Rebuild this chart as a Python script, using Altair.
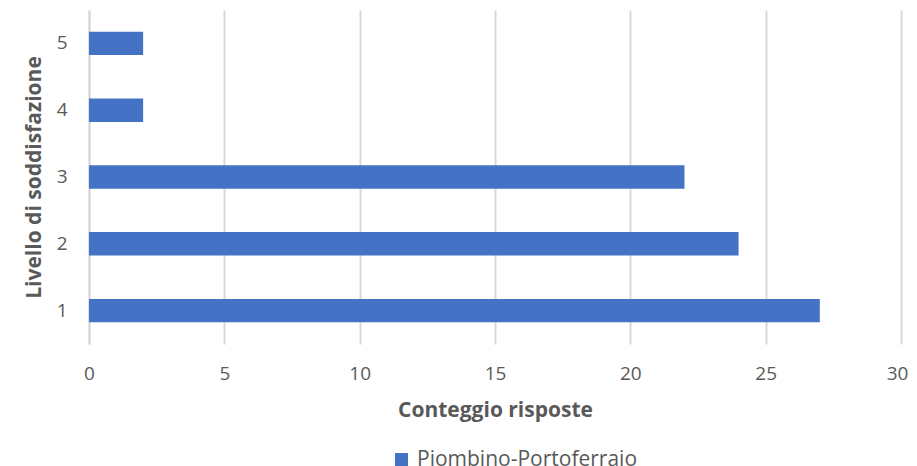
import altair as alt
import pandas as pd

livelli = ["1", "2", "3", "4", "5"]
conteggi = [27, 24, 22, 2, 2]
serie = "Piombino-Portoferraio"

df = pd.DataFrame({"Livello": livelli, "Conteggio": conteggi, "Serie": [serie] * len(livelli)})

FONT = "Open Sans"
GREY = "#595959"

chart = alt.Chart(df).mark_bar(color="#4472C4").encode(
    x=alt.X("Conteggio:Q",
            scale=alt.Scale(domain=[0, 30], nice=False),
            axis=alt.Axis(values=[0, 5, 10, 15, 20, 25, 30], title="Conteggio risposte",
                          grid=True, gridColor="#d9d9d9", gridWidth=2, domain=False, ticks=False,
                          labelFontSize=19, labelColor=GREY, labelPadding=20, labelFont=FONT,
                          labelFlush=False,
                          labelOffset=alt.condition("datum.value == 30", alt.value(-4), alt.value(0)),
                          titleFontSize=21, titleColor=GREY, titleFont=FONT, titleFontWeight="bold",
                          titlePadding=16)),
    y=alt.Y("Livello:N", sort=["5", "4", "3", "2", "1"],
            scale=alt.Scale(paddingInner=0.65, paddingOuter=0.325),
            axis=alt.Axis(title="Livello di soddisfazione", domain=True, domainColor="#d9d9d9",
                          domainWidth=2, ticks=False, grid=False,
                          labelFontSize=19, labelColor=GREY, labelPadding=22, labelFont=FONT, labelAngle=0,
                          titleFontSize=21, titleColor=GREY, titleFont=FONT, titleFontWeight="bold",
                          titlePadding=12)),
    color=alt.Color("Serie:N", scale=alt.Scale(range=["#4472C4"]),
                    legend=alt.Legend(title=None, orient="none", legendX=302, legendY=439,
                                      symbolType="square", symbolSize=170, labelFontSize=21,
                                      labelColor=GREY, labelFont=FONT, symbolStrokeWidth=0,
                                      labelLimit=400, labelOffset=5)),
).properties(
    width=812, height=334,
    autosize=alt.AutoSizeParams(type="none"),
    padding={"left": 81, "top": 2, "right": 8, "bottom": 140},
).configure_view(stroke=None)

chart.save("out.html", embed_options={"renderer": "svg", "actions": False})
